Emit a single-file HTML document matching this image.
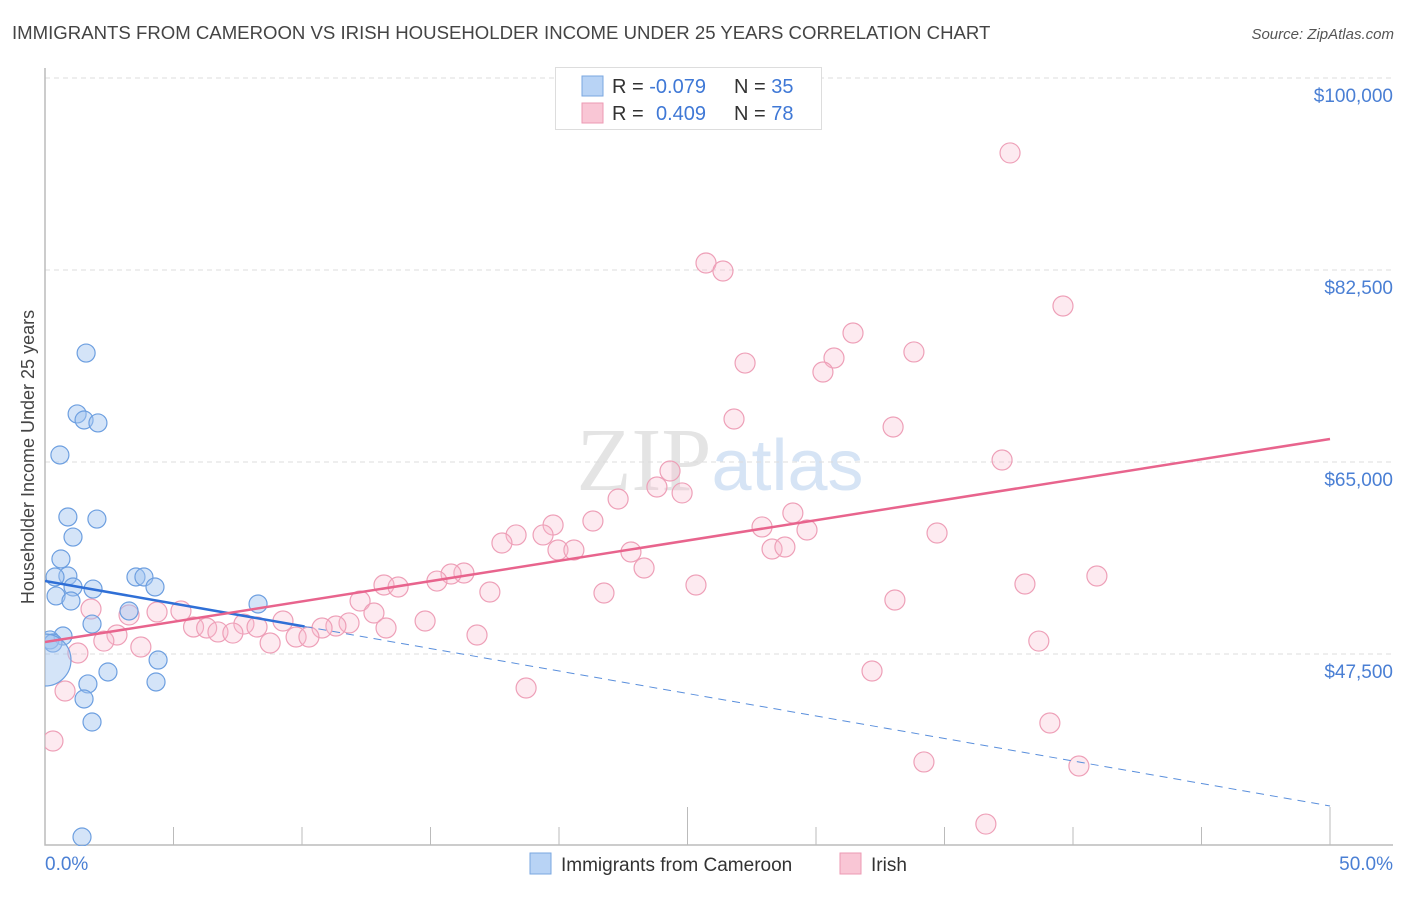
<!DOCTYPE html>
<html><head><meta charset="utf-8"><style>
body{margin:0;width:1406px;height:892px;background:#fff;font-family:"Liberation Sans",sans-serif;overflow:hidden}
</style></head><body>
<svg id="chart" width="1406" height="892" xmlns="http://www.w3.org/2000/svg" font-family="Liberation Sans, sans-serif">
<defs><clipPath id="plotclip"><rect x="45" y="60" width="1360" height="786"/></clipPath></defs>
<text x="12" y="39" font-size="18.6" fill="#444">IMMIGRANTS FROM CAMEROON VS IRISH HOUSEHOLDER INCOME UNDER 25 YEARS CORRELATION CHART</text>
<text x="1394" y="39" font-size="15" fill="#555" text-anchor="end" font-style="italic">Source: ZipAtlas.com</text>
<text x="720" y="490" font-size="90" text-anchor="middle" fill="#e4e4e4" font-family="Liberation Serif, serif">ZIP<tspan fill="#d6e4f5" font-family="Liberation Sans, sans-serif" font-size="72">atlas</tspan></text>
<text transform="translate(34,457) rotate(-90)" font-size="18" fill="#444" text-anchor="middle">Householder Income Under 25 years</text>
<g id="grid"></g><g id="axes"></g><g id="marks" clip-path="url(#plotclip)"></g>
<g>
<rect x="555.5" y="67.5" width="266" height="62" fill="#fff" stroke="#ddd"/>
<rect x="582" y="76" width="21" height="20" fill="#b8d3f5" stroke="#7aa7e0"/>
<rect x="582" y="103" width="21" height="20" fill="#f9c6d5" stroke="#ec9ab3"/>
<text x="612" y="93" font-size="20" fill="#333">R = <tspan fill="#3f78d6">-0.079</tspan><tspan x="734">N = </tspan><tspan fill="#3f78d6">35</tspan></text>
<text x="612" y="120" font-size="20" fill="#333">R = <tspan x="656" fill="#3f78d6">0.409</tspan><tspan x="734">N = </tspan><tspan fill="#3f78d6">78</tspan></text>
</g>
<g>
<rect x="530" y="853" width="21" height="21" fill="#b8d3f5" stroke="#7aa7e0"/>
<text x="561" y="871" font-size="19" fill="#333">Immigrants from Cameroon</text>
<rect x="840" y="853" width="21" height="21" fill="#f9c6d5" stroke="#ec9ab3"/>
<text x="871" y="871" font-size="19" fill="#333">Irish</text>
</g>
</svg>
<script>
const yTicks=[100000,82500,65000,47500];
const yTickLabels=["$100,000","$82,500","$65,000","$47,500"];
const xTickLabels=["0.0%","50.0%"];
const blueX=[1.60,1.25,1.52,2.06,0.58,0.89,2.02,1.09,0.62,0.89,0.39,1.09,1.87,0.43,1.01,3.54,3.85,4.28,3.27,8.29,1.83,0.70,0.19,0.31,0,4.40,2.45,1.67,4.32,1.52,1.83,1.44];
const blueY=[74930,69380,68830,68560,65640,59990,59800,58160,56160,54610,54520,53610,53420,52790,52330,54520,54520,53610,51420,52060,50230,49140,48780,48500,46950,46950,45860,44770,44950,43400,41300,30820];
const pinkX=[37.55,25.72,26.38,39.61,31.44,33.81,30.70,27.24,30.27,26.81,33.0,37.24,24.32,23.81,24.79,22.30,29.10,19.77,21.32,27.90,29.65,34.71,18.33,19.38,17.78,19.96,20.58,22.80,28.29,28.79,23.31,16.30,15.80,15.25,13.19,13.74,38.13,25.33,40.93,17.31,21.75,33.07,12.26,12.80,4.36,5.29,1.79,3.27,14.79,9.26,7.74,11.83,11.32,10.78,13.27,5.78,6.29,6.73,7.31,8.25,9.77,10.27,16.81,2.80,2.29,3.73,8.76,1.28,38.67,32.18,0.78,18.72,39.10,0.31,34.20,40.23,36.61];
const pinkY=[93170,83140,82410,79220,76760,75030,74480,74020,73200,68920,68190,65180,64180,62720,62180,61630,60350,59260,59620,59080,58800,58530,58350,58350,57620,56980,56980,56800,57070,57250,55340,54880,54790,54150,53790,53610,53880,53790,54610,53150,53060,52420,52330,51240,51330,51420,51600,51060,50510,50510,50230,50330,50050,49870,49870,49960,49870,49510,49410,49960,49050,49050,49230,49230,48680,48140,48500,47590,48680,45950,44130,44400,41210,39570,37660,37290,32000];
const blueTrend=[54150,33650];
const pinkTrend=[48590,67100];
const X=v=>45+v/50*1285;
const Y=v=>654-(v-47500)*192/17500;
const NS="http://www.w3.org/2000/svg";
function mk(parent,tag,attrs){const e=document.createElementNS(NS,tag);for(const k in attrs)e.setAttribute(k,attrs[k]);document.getElementById(parent).appendChild(e);return e;}
yTicks.forEach((t,i)=>{
 const g=mk('grid','line',{x1:45,x2:1393,y1:Y(t),y2:Y(t),stroke:'#ddd','stroke-dasharray':'5,4'});
 
 
 const l=mk('grid','text',{x:1393,y:Y(t)+24,'font-size':19,fill:'#4a7fd4','text-anchor':'end'});
 l.textContent=yTickLabels[i];
 
 
});
const ax=mk('axes','path',{d:'M45,68V845H1393',stroke:'#bbb',fill:'none','stroke-width':1.5});


for(let i=0;i<=10;i++){
 const x=X(i*5);
 const tk=mk('axes','line',{x1:x,x2:x,y1:(i==5||i==10)?807:827,y2:845,stroke:'#bbb'});
 
 
}
const xl0=mk('axes','text',{x:45,y:870,'font-size':19,fill:'#4a7fd4'});xl0.textContent=xTickLabels[0];


const xl1=mk('axes','text',{x:1393,y:870,'font-size':19,fill:'#4a7fd4','text-anchor':'end'});xl1.textContent=xTickLabels[1];


pinkX.forEach((x,i)=>{
 const c=mk('marks','circle',{cx:X(x),cy:Y(pinkY[i]),r:10,fill:'rgba(248,185,205,0.3)',stroke:'#eea0b8','stroke-width':1.2});
 
 
});
blueX.forEach((x,i)=>{
 const c=mk('marks','circle',{cx:X(x),cy:Y(blueY[i]),r:i==24?26:9,fill:'rgba(160,195,240,0.45)',stroke:'#6d9fe0','stroke-width':1.2});
 
 
});
const bs=(blueTrend[1]-blueTrend[0])/50, xe=10.1;
const bl=mk('marks','line',{x1:X(0),y1:Y(blueTrend[0]),x2:X(xe),y2:Y(blueTrend[0]+bs*xe),stroke:'#2f6fd6','stroke-width':2.5});


const bd=mk('marks','line',{x1:X(xe),y1:Y(blueTrend[0]+bs*xe),x2:X(50),y2:Y(blueTrend[1]),stroke:'#5a8fdc','stroke-width':1,'stroke-dasharray':'8,6'});


const pl=mk('marks','line',{x1:X(0),y1:Y(pinkTrend[0]),x2:X(50),y2:Y(pinkTrend[1]),stroke:'#e8648d','stroke-width':2.5});


</script>
</body></html>
